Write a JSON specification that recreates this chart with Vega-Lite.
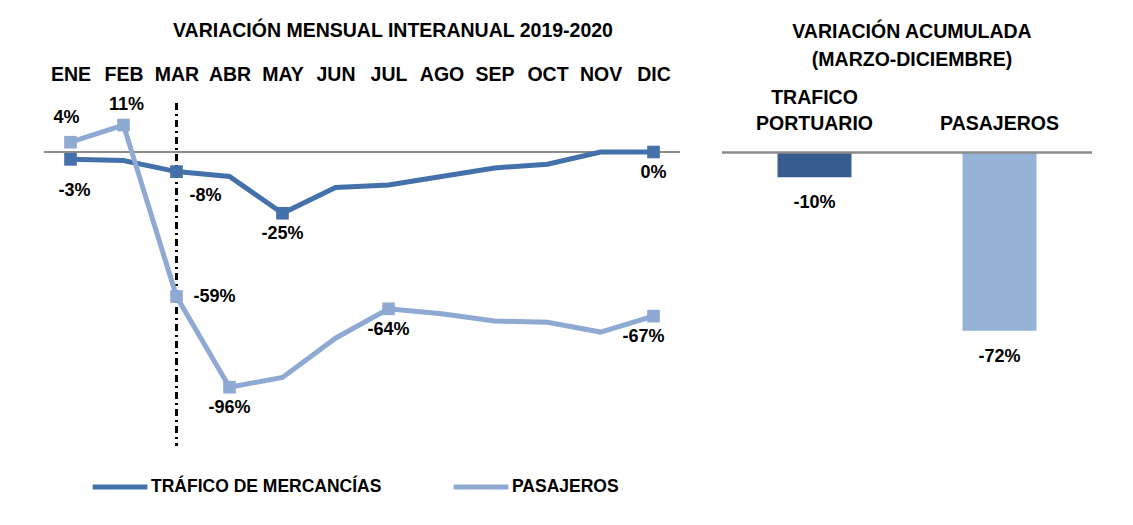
{
  "$schema": "https://vega.github.io/schema/vega-lite/v6.json",
  "padding": {"left": 42, "top": 20, "right": 5, "bottom": 5},
  "background": "white",
  "config": {
    "font": "Liberation Sans, Arial, sans-serif",
    "view": {"stroke": "transparent"},
    "axis": {"labelFont": "Liberation Sans, Arial, sans-serif", "labelFontWeight": "bold", "labelFontSize": 19.5, "labelColor": "black", "domain": false, "ticks": false, "grid": false},
    "title": {"font": "Liberation Sans, Arial, sans-serif", "fontWeight": "bold", "fontSize": 19.5, "color": "black"},
    "text": {"font": "Liberation Sans, Arial, sans-serif", "fontWeight": "bold", "fontSize": 18, "color": "black"}
  },
  "spacing": 42,
  "bounds": "flush",
  "datasets": {
    "mensual": [
      {"month": "ENE", "serie": "TRÁFICO DE MERCANCÍAS", "value": -3, "lbl": "-3%"},
      {"month": "FEB", "serie": "TRÁFICO DE MERCANCÍAS", "value": -3.5, "lbl": null},
      {"month": "MAR", "serie": "TRÁFICO DE MERCANCÍAS", "value": -8, "lbl": "-8%"},
      {"month": "ABR", "serie": "TRÁFICO DE MERCANCÍAS", "value": -10, "lbl": null},
      {"month": "MAY", "serie": "TRÁFICO DE MERCANCÍAS", "value": -25, "lbl": "-25%"},
      {"month": "JUN", "serie": "TRÁFICO DE MERCANCÍAS", "value": -14.5, "lbl": null},
      {"month": "JUL", "serie": "TRÁFICO DE MERCANCÍAS", "value": -13.5, "lbl": null},
      {"month": "AGO", "serie": "TRÁFICO DE MERCANCÍAS", "value": -10, "lbl": null},
      {"month": "SEP", "serie": "TRÁFICO DE MERCANCÍAS", "value": -6.5, "lbl": null},
      {"month": "OCT", "serie": "TRÁFICO DE MERCANCÍAS", "value": -5, "lbl": null},
      {"month": "NOV", "serie": "TRÁFICO DE MERCANCÍAS", "value": 0, "lbl": null},
      {"month": "DIC", "serie": "TRÁFICO DE MERCANCÍAS", "value": 0, "lbl": "0%"},
      {"month": "ENE", "serie": "PASAJEROS", "value": 4, "lbl": "4%"},
      {"month": "FEB", "serie": "PASAJEROS", "value": 11, "lbl": "11%"},
      {"month": "MAR", "serie": "PASAJEROS", "value": -59, "lbl": "-59%"},
      {"month": "ABR", "serie": "PASAJEROS", "value": -96, "lbl": "-96%"},
      {"month": "MAY", "serie": "PASAJEROS", "value": -92, "lbl": null},
      {"month": "JUN", "serie": "PASAJEROS", "value": -76, "lbl": null},
      {"month": "JUL", "serie": "PASAJEROS", "value": -64, "lbl": "-64%"},
      {"month": "AGO", "serie": "PASAJEROS", "value": -66, "lbl": null},
      {"month": "SEP", "serie": "PASAJEROS", "value": -69, "lbl": null},
      {"month": "OCT", "serie": "PASAJEROS", "value": -69.5, "lbl": null},
      {"month": "NOV", "serie": "PASAJEROS", "value": -73.5, "lbl": null},
      {"month": "DIC", "serie": "PASAJEROS", "value": -67, "lbl": "-67%"}
    ],
    "acumulada": [
      {"cat": "TRAFICO|PORTUARIO", "value": -10, "lbl": "-10%"},
      {"cat": "PASAJEROS", "value": -72, "lbl": "-72%"}
    ]
  },
  "hconcat": [
    {
      "width": 636,
      "height": 343,
      "title": {"text": "VARIACIÓN MENSUAL INTERANUAL 2019-2020", "dx": 31, "offset": 23},
      "data": {"name": "mensual"},
      "encoding": {
        "x": {"field": "month", "type": "ordinal", "sort": ["ENE","FEB","MAR","ABR","MAY","JUN","JUL","AGO","SEP","OCT","NOV","DIC"], "scale": {"type": "point", "padding": 0.5}, "axis": {"orient": "top", "title": null, "labelAngle": 0, "labelPadding": 19}},
        "y": {"field": "value", "type": "quantitative", "scale": {"domain": [-120, 20], "nice": false, "zero": false}, "axis": null}
      },
      "layer": [
        {"mark": {"type": "rule", "color": "#8c8c8c", "strokeWidth": 2}, "encoding": {"x": null, "y": {"datum": 0}}},
        {"mark": {"type": "rule", "color": "black", "strokeWidth": 1.5, "strokeDash": [7, 4, 2, 4]}, "encoding": {"x": {"datum": "MAR", "type": "ordinal"}, "y": null}},
        {
          "mark": {"type": "line", "strokeWidth": 5},
          "encoding": {
            "color": {"field": "serie", "type": "nominal", "scale": {"domain": ["TRÁFICO DE MERCANCÍAS", "PASAJEROS"], "range": ["#4471aa", "#8ea9d2"]},
              "legend": {"orient": "none", "legendX": 46, "legendY": 354, "direction": "horizontal", "title": null, "symbolType": "stroke", "symbolSize": 3000, "symbolStrokeWidth": 5, "labelFontSize": 17.5, "labelFont": "Liberation Sans, Arial, sans-serif", "labelFontWeight": "bold", "labelColor": "black", "labelOffset": 1, "columnPadding": 61, "labelLimit": 400}}
          }
        },
        {"transform": [{"filter": "datum.lbl != null && datum.serie == 'PASAJEROS'"}], "mark": {"type": "square", "size": 160, "opacity": 1, "color": "#8ea9d2"}},
        {"transform": [{"filter": "datum.lbl != null && datum.serie != 'PASAJEROS'"}], "mark": {"type": "square", "size": 160, "opacity": 1, "color": "#4471aa"}},
        {"transform": [{"filter": "(datum.serie != 'PASAJEROS' && (datum.month == 'MAY' || datum.month == 'DIC')) || (datum.serie == 'PASAJEROS' && (datum.month == 'ABR' || datum.month == 'JUL'))"}], "mark": {"type": "text", "dy": 21}, "encoding": {"text": {"field": "lbl"}}},
        {"transform": [{"filter": "datum.serie != 'PASAJEROS' && datum.month == 'ENE'"}], "mark": {"type": "text", "dy": 32, "dx": 4}, "encoding": {"text": {"field": "lbl"}}},
        {"transform": [{"filter": "datum.serie != 'PASAJEROS' && datum.month == 'MAR'"}], "mark": {"type": "text", "dy": 24, "dx": 29}, "encoding": {"text": {"field": "lbl"}}},
        {"transform": [{"filter": "datum.serie == 'PASAJEROS' && datum.month == 'MAR'"}], "mark": {"type": "text", "dx": 38}, "encoding": {"text": {"field": "lbl"}}},
        {"transform": [{"filter": "datum.serie == 'PASAJEROS' && datum.month == 'DIC'"}], "mark": {"type": "text", "dy": 21, "dx": -10}, "encoding": {"text": {"field": "lbl"}}},
        {"transform": [{"filter": "datum.serie == 'PASAJEROS' && datum.month == 'ENE'"}], "mark": {"type": "text", "dy": -24, "dx": -4}, "encoding": {"text": {"field": "lbl"}}},
        {"transform": [{"filter": "datum.serie == 'PASAJEROS' && datum.month == 'FEB'"}], "mark": {"type": "text", "dy": -20, "dx": 3}, "encoding": {"text": {"field": "lbl"}}}
      ]
    },
    {
      "width": 370,
      "height": 343,
      "title": {"text": ["VARIACIÓN ACUMULADA", "(MARZO-DICIEMBRE)"], "dx": 5, "offset": 17, "lineHeight": 28},
      "data": {"name": "acumulada"},
      "encoding": {
        "x": {"field": "cat", "type": "nominal", "sort": null, "scale": {"paddingInner": 0.6, "paddingOuter": 0.3}, "axis": {"orient": "top", "title": null, "labelAngle": 0, "labelPadding": -4, "labelExpr": "datum.label == 'PASAJEROS' ? ['', 'PASAJEROS'] : split(datum.label, '|')", "labelLineHeight": 26}},
        "y": {"field": "value", "type": "quantitative", "scale": {"domain": [-118.5, 20], "nice": false, "zero": false}, "axis": null}
      },
      "layer": [
        {"mark": {"type": "bar"}, "encoding": {"color": {"field": "cat", "type": "nominal", "scale": {"domain": ["TRAFICO|PORTUARIO", "PASAJEROS"], "range": ["#385e8f", "#95b3d7"]}, "legend": null}}},
        {"mark": {"type": "rule", "color": "#8c8c8c", "strokeWidth": 2}, "encoding": {"x": null, "y": {"datum": 0}}},
        {"mark": {"type": "text", "dy": 26}, "encoding": {"text": {"field": "lbl"}}}
      ]
    }
  ],
  "resolve": {"scale": {"color": "independent", "y": "independent"}}
}
